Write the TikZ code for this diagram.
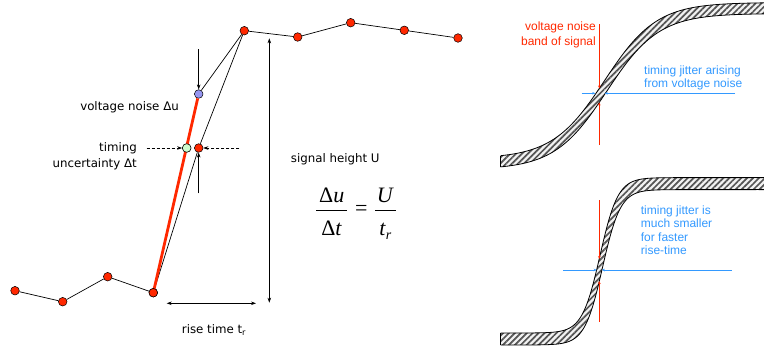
\documentclass[tikz,border=0pt]{standalone}
\usepackage{fontspec}
\setmainfont{DejaVu Sans}
\newfontfamily\arialf{Liberation Sans}
\newfontfamily\tms{Liberation Serif}
\usetikzlibrary{arrows.meta,patterns.meta}
\definecolor{dotred}{RGB}{255,40,0}
\definecolor{dotblue}{RGB}{150,150,240}
\definecolor{dotgreen}{RGB}{205,250,205}
\definecolor{jitblue}{RGB}{51,153,255}
\definecolor{hatch}{RGB}{85,85,85}
\begin{document}
\begin{tikzpicture}[x=1pt,y=-1pt,
  dot/.style={circle,draw=black,line width=0.5pt,fill=dotred,minimum size=8.6pt,inner sep=0pt},
  sig/.style={line width=0.7pt},
  arr/.style={-{Stealth[length=5pt,width=3.5pt]},line width=0.6pt},
  darr/.style={{Stealth[length=5pt,width=3.5pt]}-{Stealth[length=5pt,width=3.5pt]},line width=0.6pt},
  dasharr/.style={arr,dash pattern=on 3pt off 2pt},
  lbl/.style={font=\fontsize{11.8}{13}\selectfont,inner sep=0pt},
  rlbl/.style={font=\arialf\fontsize{12}{14}\selectfont,inner sep=0pt},
  redarr/.style={-{Stealth[length=3pt,width=2.6pt]},line width=0.8pt,draw=dotred},
  bluearr/.style={-{Stealth[length=3pt,width=2.6pt]},line width=0.8pt,draw=jitblue},
  band/.style={pattern={Lines[angle=45,distance=4.2pt,line width=1.7pt]},pattern color=hatch},
  edge/.style={line width=0.8pt,draw=black}
]
\useasboundingbox (0,0) rectangle (764,349);

% ---------------- left panel ----------------
\node[dot] (p1) at (15,290.7) {};
\node[dot] (p2) at (62.7,301.7) {};
\node[dot] (p3) at (107.7,276.7) {};
\node[dot] (p4) at (153.3,292.7) {};
\node[dot] (pt) at (244.3,30.7) {};
\node[dot] (t2) at (297.7,37) {};
\node[dot] (t3) at (350.7,22.7) {};
\node[dot] (t4) at (404.3,30.3) {};
\node[dot] (t5) at (458,38) {};
\node[dot,fill=dotblue] (vb) at (198.7,94) {};
\node[dot,fill=dotgreen] (vg) at (186.7,148) {};
\node[dot] (vm) at (198.7,148) {};

\draw[sig] (p1) -- (p2) -- (p3) -- (p4);
\draw[sig] (pt) -- (t2) -- (t3) -- (t4) -- (t5);
\draw[sig] (p4) -- (vm) -- (pt);
\draw[sig] (vb) -- (pt);
\draw[line width=2.8pt,draw=dotred] (p4.center) -- (vb);
\node[dot] at (p4) {};
\node[dot,fill=dotgreen] at (vg) {};

\coordinate (a1) at (198.7,49.3);
\coordinate (a2) at (198.7,193.3);
\coordinate (d1) at (146.7,148);
\coordinate (d2) at (239.3,148);
\draw[arr] (a1) -- (vb);
\draw[arr] (a2) -- (vm);
\draw[dasharr] (d1) -- (vg);
\draw[dasharr] (d2) -- (vm);

\coordinate (h1) at (269.3,38.3);
\coordinate (h2) at (269.3,302.7);
\draw[darr] (h1) -- (h2);
\coordinate (r1) at (166.7,303.3);
\coordinate (r2) at (256,303.3);
\draw[darr] (r1) -- (r2);

\node[lbl,anchor=base east] (tvn) at (179,110.7) {voltage noise Δu};
\node[lbl,anchor=base east] (ttm) at (137,151.7) {timing};
\node[lbl,anchor=base east] (tun) at (137,167.7) {uncertainty Δt};
\node[lbl,anchor=base west] (tsh) at (290.7,162.3) {signal height U};
\node[lbl,anchor=base west] (trt) at (181.7,333.3) {rise time t\textsubscript{r}};

% formula
\node[inner sep=0pt,anchor=base,font=\tms\fontsize{22}{24}\selectfont] (fnu) at (331.7,202.3) {Δ\textit{u}};
\node[inner sep=0pt,anchor=base,font=\tms\fontsize{22}{24}\selectfont] (fdt) at (331.7,235) {Δ\textit{t}};
\coordinate (b1l) at (316,210.7);
\coordinate (b1r) at (346.7,210.7);
\draw[line width=1.1pt] (b1l) -- (b1r);
\node[inner sep=0pt,font=\tms\fontsize{22}{24}\selectfont] (feq) at (361.3,210.7) {=};
\coordinate (b2l) at (375,210.7);
\coordinate (b2r) at (395.7,210.7);
\draw[line width=1.1pt] (b2l) -- (b2r);
\node[inner sep=0pt,anchor=base,font=\tms\fontsize{22}{24}\selectfont] (fu) at (385.3,202.3) {\textit{U}};
\node[inner sep=0pt,anchor=base,font=\tms\fontsize{22}{24}\selectfont] (ftr) at (385.3,235) {\textit{t}\raisebox{-4pt}{\fontsize{14}{14}\selectfont\textit{r}}};

% ---------------- right panel: top ----------------
\begin{scope}
\clip (500.7,-2) rectangle (766,172);
\fill[gray!10] plot[domain=495:770,samples=160,variable=\x] ({\x-1},{86-78*tanh((\x-605.6)/52)-5.5})
  -- plot[domain=770:495,samples=160,variable=\x] ({\x+1},{86-78*tanh((\x-605.6)/52)+5.5}) -- cycle;
\fill[band] plot[domain=495:770,samples=160,variable=\x] ({\x-1},{86-78*tanh((\x-605.6)/52)-5.5})
  -- plot[domain=770:495,samples=160,variable=\x] ({\x+1},{86-78*tanh((\x-605.6)/52)+5.5}) -- cycle;
\draw[edge] plot[domain=495:770,samples=160,variable=\x] ({\x-1},{86-78*tanh((\x-605.6)/52)-5.5});
\draw[edge] plot[domain=495:770,samples=160,variable=\x] ({\x+1},{86-78*tanh((\x-605.6)/52)+5.5});
\end{scope}
\coordinate (c1a) at (500.7,155.8);
\coordinate (c1b) at (500.7,166.8);
\draw[edge] (c1a) -- (c1b);

\coordinate (ra1) at (599.3,24);
\coordinate (ra2) at (599.3,88.4);
\coordinate (rb1) at (599.3,145);
\coordinate (rb2) at (599.3,102.4);
\draw[redarr] (ra1) -- (ra2);
\draw[redarr] (rb1) -- (rb2);
\coordinate (ba1) at (581.7,93.3);
\coordinate (ba2) at (595.3,93.3);
\coordinate (bb1) at (735,93.3);
\coordinate (bb2) at (604.7,93.3);
\draw[bluearr] (ba1) -- (ba2);
\draw[bluearr] (bb1) -- (bb2);

\node[rlbl,text=dotred,anchor=base east] (vn1) at (596,30) {voltage noise};
\node[rlbl,text=dotred,anchor=base east] (vn2) at (596,45) {band of signal};
\node[rlbl,text=jitblue,anchor=base west] (tj1) at (644,74) {timing jitter arising};
\node[rlbl,text=jitblue,anchor=base west] (tj2) at (644,87.3) {from voltage noise};

% ---------------- right panel: bottom ----------------
\begin{scope}
\clip (500.7,172) rectangle (766,351);
\fill[gray!10] plot[domain=495:770,samples=220,variable=\x] ({\x-1.25},{261.3-77.7*tanh((\x-601.3)/17.9)-6})
  -- plot[domain=770:495,samples=220,variable=\x] ({\x+1.25},{261.3-77.7*tanh((\x-601.3)/17.9)+6}) -- cycle;
\fill[band] plot[domain=495:770,samples=220,variable=\x] ({\x-1.25},{261.3-77.7*tanh((\x-601.3)/17.9)-6})
  -- plot[domain=770:495,samples=220,variable=\x] ({\x+1.25},{261.3-77.7*tanh((\x-601.3)/17.9)+6}) -- cycle;
\draw[edge] plot[domain=495:770,samples=220,variable=\x] ({\x-1.25},{261.3-77.7*tanh((\x-601.3)/17.9)-6});
\draw[edge] plot[domain=495:770,samples=220,variable=\x] ({\x+1.25},{261.3-77.7*tanh((\x-601.3)/17.9)+6});
\end{scope}
\coordinate (c2a) at (500.7,333);
\coordinate (c2b) at (500.7,345);
\draw[edge] (c2a) -- (c2b);

\coordinate (rc1) at (599.3,200);
\coordinate (rc2) at (599.3,259);
\coordinate (rd1) at (599.3,321.7);
\coordinate (rd2) at (599.3,281);
\draw[redarr] (rc1) -- (rc2);
\draw[redarr] (rd1) -- (rd2);
\coordinate (bc1) at (563.3,270);
\coordinate (bc2) at (596.7,270);
\coordinate (bd1) at (731.7,270);
\coordinate (bd2) at (601.9,270);
\draw[bluearr] (bc1) -- (bc2);
\draw[bluearr] (bd1) -- (bd2);

\node[rlbl,text=jitblue,anchor=base west] (tk1) at (640.7,214) {timing jitter is};
\node[rlbl,text=jitblue,anchor=base west] (tk2) at (640.7,227.5) {much smaller};
\node[rlbl,text=jitblue,anchor=base west] (tk3) at (640.7,241) {for faster};
\node[rlbl,text=jitblue,anchor=base west] (tk4) at (640.7,254.5) {rise-time};
\end{tikzpicture}
\end{document}
